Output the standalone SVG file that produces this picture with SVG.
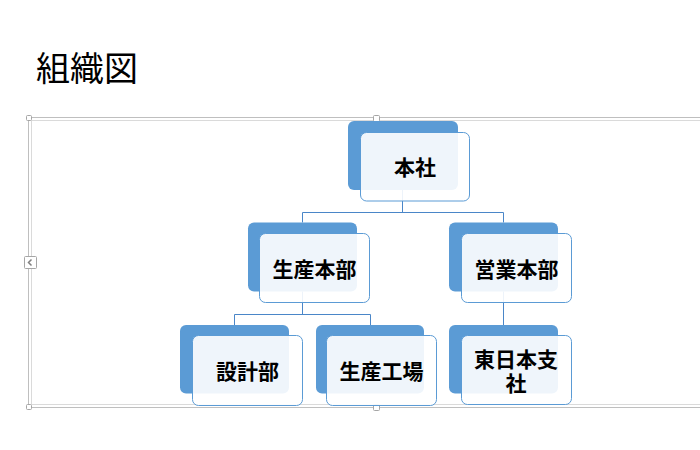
<svg xmlns="http://www.w3.org/2000/svg" width="700" height="450" viewBox="0 0 700 450">
  <style>
    .back { fill: #5B9BD5; }
    .front { fill: #FFFFFF; fill-opacity: 0.9; stroke: #5B9BD5; stroke-width: 1; }
    .lbl { font-family: "Noto Sans CJK JP", "Noto Sans", sans-serif; font-size: 21px; font-weight: bold; fill: #000000; text-anchor: middle; dominant-baseline: central; }
    .conn { fill: none; stroke: #4A86C8; stroke-width: 1; }
    .handle { fill: #FFFFFF; stroke: #A6A6A6; stroke-width: 1; }
  </style>
  <rect x="0" y="0" width="700" height="450" fill="#FFFFFF"/>
  <text x="36" y="66" font-family="'Noto Sans CJK JP', 'Noto Sans', sans-serif" font-size="34" fill="#000000" dominant-baseline="central">組織図</text>

  <g id="frame">
    <path d="M700,117.5 H28.5 V407.5 H700" fill="none" stroke="#BFBFBF" stroke-width="1"/>
    <path d="M700,120.5 H31.5 V404.5 H700" fill="none" stroke="#DADADA" stroke-width="1"/>
    <rect class="handle" x="26.5" y="115.5" width="5" height="5" rx="1"/>
    <rect class="handle" x="26.5" y="404.5" width="5" height="5" rx="1"/>
    <rect class="handle" x="373.5" y="115.5" width="6" height="6" rx="1"/>
    <rect class="handle" x="373.5" y="404.5" width="6" height="6" rx="1"/>
    <rect class="handle" x="24.5" y="256.5" width="12" height="12" rx="1"/>
    <path d="M31.5,259.5 L28.5,262.5 L31.5,265.5" fill="none" stroke="#808080" stroke-width="1.5"/>
  </g>

  <g id="connectors">
    <path class="conn" d="M402.5,190 V212.5"/>
    <path class="conn" d="M302.5,212.5 H503.5"/>
    <path class="conn" d="M302.5,212.5 V222.5"/>
    <path class="conn" d="M503.5,212.5 V222.5"/>
    <path class="conn" d="M302.5,291.5 V314.5"/>
    <path class="conn" d="M234.5,314.5 H370.5"/>
    <path class="conn" d="M234.5,314.5 V325"/>
    <path class="conn" d="M370.5,314.5 V325"/>
    <path class="conn" d="M503.5,291.5 V325"/>
  </g>

  <g id="node-honsha">
    <rect class="back" x="348" y="121" width="110" height="69" rx="6"/>
    <rect class="front" x="360.5" y="132.5" width="109" height="68.5" rx="6"/>
    <text class="lbl" x="415" y="166">本社</text>
  </g>

  <g id="node-seisan-honbu">
    <rect class="back" x="248" y="222.5" width="109" height="69" rx="6"/>
    <rect class="front" x="259.5" y="233.5" width="110" height="69" rx="6"/>
    <text class="lbl" x="314.5" y="268">生産本部</text>
  </g>

  <g id="node-eigyo-honbu">
    <rect class="back" x="449" y="222.5" width="109" height="69" rx="6"/>
    <rect class="front" x="461.5" y="233.5" width="110" height="69" rx="6"/>
    <text class="lbl" x="516.5" y="268">営業本部</text>
  </g>

  <g id="node-sekkeibu">
    <rect class="back" x="180" y="325" width="109" height="68.5" rx="6"/>
    <rect class="front" x="192.5" y="335.5" width="110" height="70" rx="6"/>
    <text class="lbl" x="247.5" y="370">設計部</text>
  </g>

  <g id="node-seisan-kojo">
    <rect class="back" x="316" y="325" width="108" height="68.5" rx="6"/>
    <rect class="front" x="326.5" y="335.5" width="110" height="70" rx="6"/>
    <text class="lbl" x="381.5" y="370">生産工場</text>
  </g>

  <g id="node-higashinihon">
    <rect class="back" x="449" y="325" width="109" height="68.5" rx="6"/>
    <rect class="front" x="461.5" y="335.5" width="110" height="69" rx="6"/>
    <text class="lbl" x="516" y="358"><tspan x="516" y="358">東日本支</tspan><tspan x="516" y="382">社</tspan></text>
  </g>
</svg>
